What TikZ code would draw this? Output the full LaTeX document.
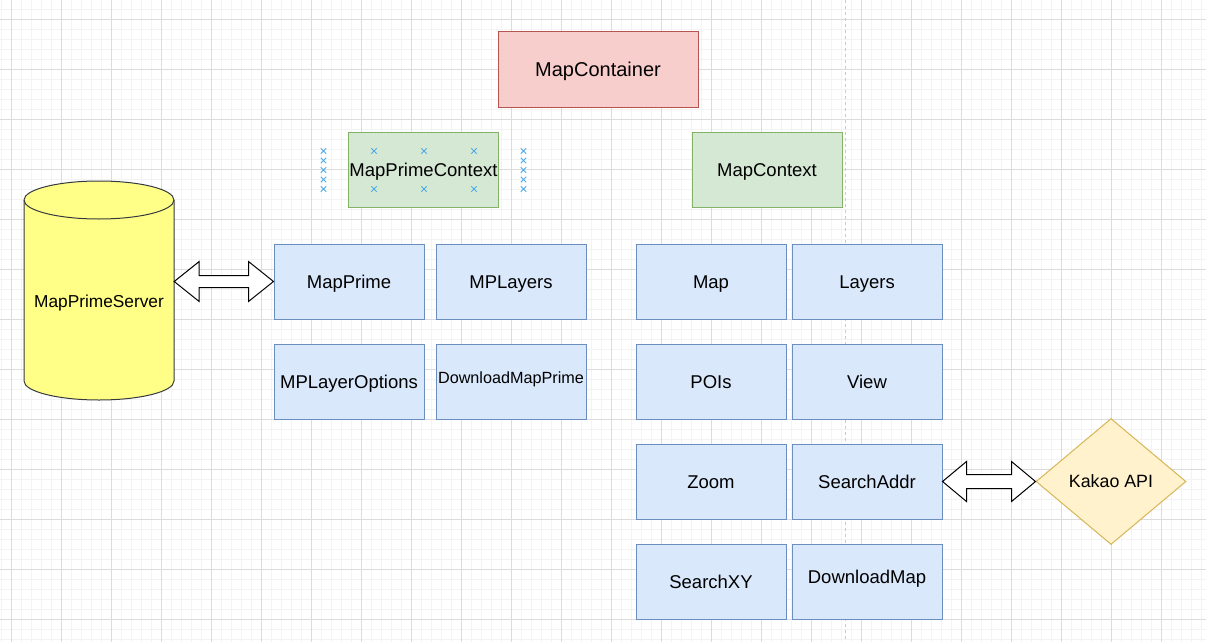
\documentclass[tikz,border=0pt]{standalone}
\usepackage{fontspec}
\setmainfont{Liberation Sans}
\usetikzlibrary{calc,shapes.geometric,shapes.misc}

\definecolor{gridminor}{HTML}{F3F3F3}
\definecolor{gridmajor}{HTML}{DCDCDC}
\definecolor{guide}{HTML}{C8C8C8}
\definecolor{redfill}{HTML}{F8CECC}
\definecolor{redline}{HTML}{B85450}
\definecolor{greenfill}{HTML}{D5E8D4}
\definecolor{greenline}{HTML}{82B366}
\definecolor{bluefill}{HTML}{DAE8FC}
\definecolor{blueline}{HTML}{6C8EBF}
\definecolor{yellowfill}{HTML}{FFFF88}
\definecolor{darkline}{HTML}{36393D}
\definecolor{goldfill}{HTML}{FFF2CC}
\definecolor{goldline}{HTML}{D6B656}
\definecolor{handle}{HTML}{4FAAE8}

% double-headed block arrow between two anchors on one horizontal line
% #1 start, #2 end, #3 shaft half-width, #4 head half-width, #5 head length
\newcommand\blockarrow[5]{%
  \draw[fatarrow] (#1) -- ++(#5,-#4) -- ++(0,#4-#3)
    -- ($(#2)+(-#5,-#3)$) -- ++(0,#3-#4) -- (#2)
    -- ++(-#5,#4) -- ++(0,#3-#4)
    -- ($(#1)+(#5,#3)$) -- ++(0,#4-#3) -- cycle;}

\begin{document}
\begin{tikzpicture}[x=1pt,y=-1pt,
  % font size and cap height, so that capitals sit centred in a node
  txt/.style n args={2}{font=\fontsize{#1pt}{#1pt}\selectfont,
    text height=#2pt, text depth=0pt},
  box/.style={rectangle, draw, line width=1pt, minimum width=150pt,
    minimum height=75pt, inner sep=0pt, txt={18.5}{13.3}},
  bluebox/.style={box, fill=bluefill, draw=blueline},
  greenbox/.style={box, fill=greenfill, draw=greenline},
  redbox/.style={box, fill=redfill, draw=redline, minimum width=200pt,
    txt={20}{14.3}},
  fatarrow/.style={draw=black, fill=white, line width=1pt, line join=miter},
  xhandle/.style={cross out, draw=handle, line width=0.9pt,
    minimum size=4.5pt, inner sep=0pt},
]
\useasboundingbox (0,0) rectangle (1206,642);
\fill[white] (0,0) rectangle (1206,642);

% background grid
\foreach \g in {1.5,11.5,...,1206} \draw[gridminor, line width=1pt] (\g,0) -- (\g,642);
\foreach \g in {9.5,19.5,...,642} \draw[gridminor, line width=1pt] (0,\g) -- (1206,\g);
\foreach \g in {11.5,61.5,...,1206} \draw[gridmajor, line width=1pt] (\g,0) -- (\g,642);
\foreach \g in {19.5,69.5,...,642} \draw[gridmajor, line width=1pt] (0,\g) -- (1206,\g);

% page guide
\draw[guide, line width=1pt, dash pattern=on 3pt off 3pt] (845.5,0) -- (845.5,642);

% containers and contexts
\node[redbox] (cont) at (598,69.5) {MapContainer};
\node[greenbox] (mpctx) at (423.5,169.5) {MapPrimeContext};
\node[greenbox] (mctx) at (767,169.5) {MapContext};

% selection handles around MapPrimeContext
\foreach \hy [count=\k] in {151,160.5,170,179.5,189} {
  \node[xhandle] (hl\k) at (323.5,\hy) {};
  \node[xhandle] (hr\k) at (523.5,\hy) {};
}
\foreach \hx [count=\k] in {374,424,474} {
  \node[xhandle] (ht\k) at (\hx,151) {};
  \node[xhandle] (hb\k) at (\hx,189) {};
}

% MapPrime components
\node[bluebox] (mprime) at (349,281.5) {MapPrime};
\node[bluebox] (mplayers) at (511,281.5) {MPLayers};
\node[bluebox] (mplopt) at (349,381.5) {MPLayerOptions};
\node[bluebox, txt={16.2}{11.6}] (dlmp) at (511,381.5) {\raisebox{3.5pt}{DownloadMapPrime}};

% Map components
\node[bluebox] (map) at (711,281.5) {Map};
\node[bluebox] (layers) at (867,281.5) {Layers};
\node[bluebox] (pois) at (711,381.5) {POIs};
\node[bluebox] (view) at (867,381.5) {View};
\node[bluebox] (zoom) at (711,481.5) {Zoom};
\node[bluebox] (saddr) at (867,481.5) {SearchAddr};
\node[bluebox] (sxy) at (711,581.5) {SearchXY};
\node[bluebox] (dlmap) at (867,581.5) {\raisebox{4.5pt}{DownloadMap}};

% MapPrimeServer database
\node[rectangle, minimum width=150pt, minimum height=219pt, inner sep=0pt] (srv) at (99,290.5) {};
\path[fill=yellowfill, draw=darkline, line width=1pt]
  (24,200) -- (24,381) arc[start angle=180, end angle=0, x radius=75, y radius=19]
  -- (174,200) arc[start angle=0, end angle=-180, x radius=75, y radius=19] -- cycle;
\draw[darkline, line width=1pt] (24,200) arc[start angle=180, end angle=0, x radius=75, y radius=19];
\node[txt={17.3}{12.4}, inner sep=0pt] (srvlabel) at (99,301) {MapPrimeServer};

% Kakao API
\node[diamond, aspect=1.19, minimum width=150pt, minimum height=126pt, inner sep=0pt,
  fill=goldfill, draw=goldline, line width=1pt, txt={17.8}{12.7}]
  (kakao) at (1111,481.5) {Kakao API};

% two-way links
\blockarrow{srv.east |- mprime.west}{mprime.west}{6}{20}{25}
\blockarrow{saddr.east}{kakao.west}{7}{20}{24}
\end{tikzpicture}
\end{document}
